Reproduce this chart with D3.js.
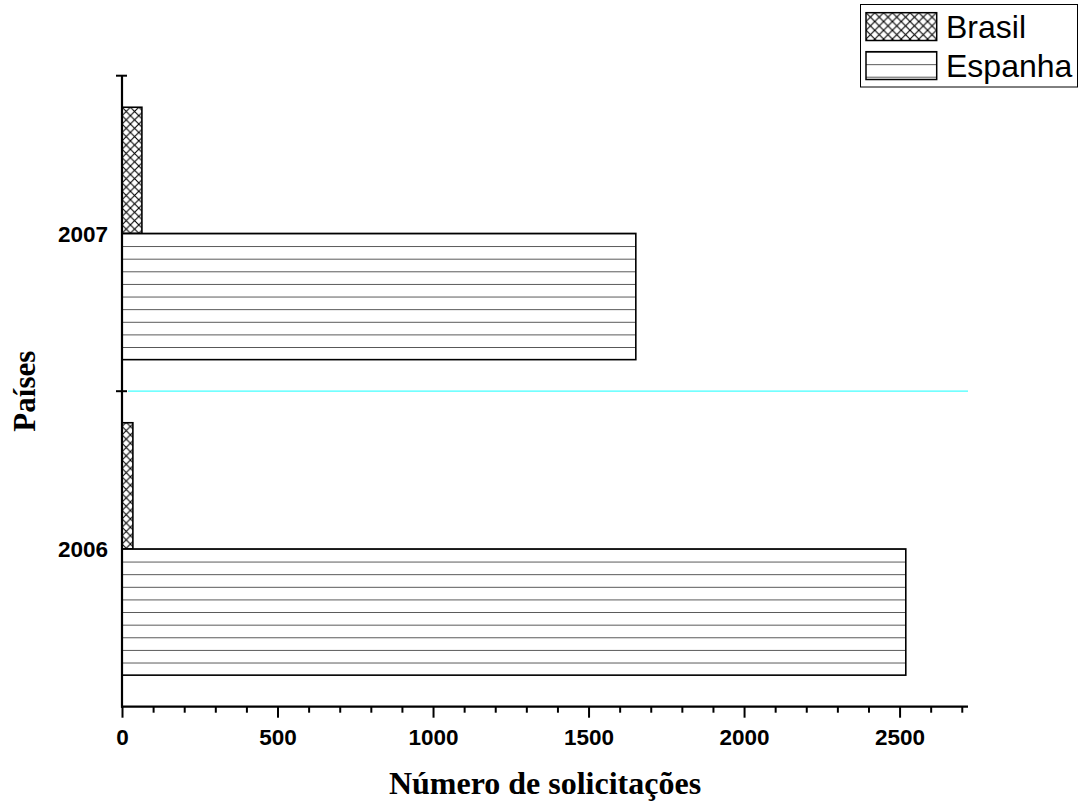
<!DOCTYPE html>
<html>
<head>
<meta charset="utf-8">
<script src="https://cdn.jsdelivr.net/npm/d3@7"></script>
<style>
  html, body { margin: 0; padding: 0; background: #fff; }
  svg { display: block; }
</style>
</head>
<body>
<svg id="chart" width="1078" height="804"></svg>
<script>
// Requests by year (categories on the vertical axis)
const years = ["2007", "2006"];
const seriesNames = ["Brasil", "Espanha"];
const brasil = [64, 35];
const espanha = [1652, 2520];
const xTickValues = [0, 500, 1000, 1500, 2000, 2500];
const xMinorValues = [100, 200, 300, 400, 600, 700, 800, 900, 1100, 1200, 1300, 1400,
                      1600, 1700, 1800, 1900, 2100, 2200, 2300, 2400, 2600, 2700];
const xTitle = "Número de solicitações";
const yTitle = "Países";

const svg = d3.select("#chart");
const plot = { left: 122, right: 968, top: 75.7, bottom: 706.7 };

const x = d3.scaleLinear().domain([0, 2720]).range([plot.left, plot.right]);
const y0 = d3.scaleBand().domain(years).range([plot.top, plot.bottom]).padding(0);
const y1 = d3.scaleBand().domain(seriesNames).range([0, y0.bandwidth()])
  .paddingInner(0).paddingOuter(0.25);

const defs = svg.append("defs");

// Diagonal cross-hatch fill
function crossHatch(id, ox, oy, size) {
  const p = defs.append("pattern").attr("id", id)
    .attr("patternUnits", "userSpaceOnUse")
    .attr("x", ox).attr("y", oy).attr("width", size).attr("height", size);
  p.append("rect").attr("width", size).attr("height", size).attr("fill", "#fff");
  p.append("path").attr("d", `M0,0L${size},${size}M${size},0L0,${size}`)
    .attr("stroke", "#000").attr("stroke-width", 1.1).attr("fill", "none");
}
// Horizontal stripe fill
function stripes(id, oy, step) {
  const p = defs.append("pattern").attr("id", id)
    .attr("patternUnits", "userSpaceOnUse")
    .attr("x", 0).attr("y", oy).attr("width", 20).attr("height", step);
  p.append("rect").attr("width", 20).attr("height", step).attr("fill", "#fff");
  p.append("line").attr("x1", 0).attr("x2", 20).attr("y1", 0).attr("y2", 0)
    .attr("stroke", "#000").attr("stroke-width", 1.3);
}

const barH = y1.bandwidth();
crossHatch("hatch-Brasil", x(0), y0(years[0]) + y1("Brasil"), 8.4);
stripes("hatch-Espanha", y0(years[0]) + y1("Espanha"), barH / 10);

// Cyan separator between the two year groups
svg.append("line")
  .attr("x1", x(0) + 6).attr("x2", plot.right)
  .attr("y1", y0(years[1])).attr("y2", y0(years[1]))
  .attr("stroke", "#44ffff").attr("stroke-width", 1.2);

// Bars
const rows = [];
years.forEach((yr, i) => {
  rows.push({ year: yr, series: "Brasil", value: brasil[i] });
  rows.push({ year: yr, series: "Espanha", value: espanha[i] });
});

svg.append("g").selectAll("rect").data(rows).join("rect")
  .attr("x", x(0))
  .attr("y", d => y0(d.year) + y1(d.series))
  .attr("width", d => x(d.value) - x(0))
  .attr("height", barH)
  .attr("fill", d => `url(#hatch-${d.series})`)
  .attr("stroke", "#000")
  .attr("stroke-width", 1.6);

// X axis: major ticks with labels, minor ticks without
const xAxisG = svg.append("g").attr("transform", `translate(0,${plot.bottom})`);
xAxisG.append("g")
  .call(d3.axisBottom(x).tickValues(xMinorValues).tickSize(6).tickSizeOuter(0).tickFormat(""))
  .call(g => g.select(".domain").remove())
  .call(g => g.selectAll("line").attr("stroke", "#000").attr("stroke-width", 2));
xAxisG.append("g")
  .call(d3.axisBottom(x).tickValues(xTickValues).tickSize(11).tickSizeOuter(0).tickFormat(d3.format("d")))
  .call(g => g.select(".domain").attr("stroke", "#000").attr("stroke-width", 2.2)
    .attr("d", `M${plot.left - 1},0H${plot.right}`))
  .call(g => g.selectAll("line").attr("stroke", "#000").attr("stroke-width", 2))
  .call(g => g.selectAll("text")
    .attr("y", 38.3).attr("dy", 0)
    .attr("font-family", "'Liberation Sans', Arial, sans-serif")
    .attr("font-weight", "bold").attr("font-size", 22.5).attr("fill", "#000"));

// Y axis: category labels at band centres, tick marks at band edges
const yAxisG = svg.append("g").attr("transform", `translate(${plot.left},0)`);
yAxisG.call(d3.axisLeft(y0).tickSize(0).tickPadding(14))
  .call(g => g.select(".domain").attr("stroke", "#000").attr("stroke-width", 2.2)
    .attr("d", `M0,${plot.top}V${plot.bottom + 1}`))
  .call(g => g.selectAll("text")
    .attr("dy", "0.36em")
    .attr("font-family", "'Liberation Sans', Arial, sans-serif")
    .attr("font-weight", "bold").attr("font-size", 22.5).attr("fill", "#000"));
const bandEdges = years.map(yr => y0(yr)).concat([plot.bottom]);
yAxisG.selectAll("line.edge").data(bandEdges.slice(0, 2)).join("line")
  .attr("class", "edge")
  .attr("x1", -6).attr("x2", 5)
  .attr("y1", d => d).attr("y2", d => d)
  .attr("stroke", "#000").attr("stroke-width", 2);

// Axis titles
svg.append("text")
  .attr("x", (plot.left + plot.right) / 2).attr("y", 794)
  .attr("text-anchor", "middle")
  .attr("font-family", "'Liberation Serif', 'Times New Roman', serif")
  .attr("font-weight", "bold").attr("font-size", 32)
  .text(xTitle);
svg.append("text")
  .attr("transform", `translate(35,${(plot.top + plot.bottom) / 2}) rotate(-90)`)
  .attr("text-anchor", "middle")
  .attr("font-family", "'Liberation Serif', 'Times New Roman', serif")
  .attr("font-weight", "bold").attr("font-size", 31)
  .text(yTitle);

// Legend
const legend = svg.append("g");
legend.append("rect")
  .attr("x", 860.5).attr("y", 4.5).attr("width", 217).attr("height", 82.5)
  .attr("fill", "#fff").attr("stroke", "#000").attr("stroke-width", 1);
crossHatch("hatch-leg-Brasil", 866, 12.7, 8.8);
stripes("hatch-leg-Espanha", 51.7, 12.5);
const legendRows = [
  { name: seriesNames[0], top: 12.7, fill: "url(#hatch-leg-Brasil)" },
  { name: seriesNames[1], top: 51.7, fill: "url(#hatch-leg-Espanha)" }
];
legendRows.forEach(r => {
  legend.append("rect")
    .attr("x", 866).attr("y", r.top).attr("width", 70.7).attr("height", 27.8)
    .attr("fill", r.fill).attr("stroke", "#000").attr("stroke-width", 1.5);
  legend.append("text")
    .attr("x", 946).attr("y", r.top + 25)
    .attr("font-family", "'Liberation Sans', Arial, sans-serif")
    .attr("font-size", 32).attr("fill", "#000")
    .text(r.name);
});
</script>
</body>
</html>
